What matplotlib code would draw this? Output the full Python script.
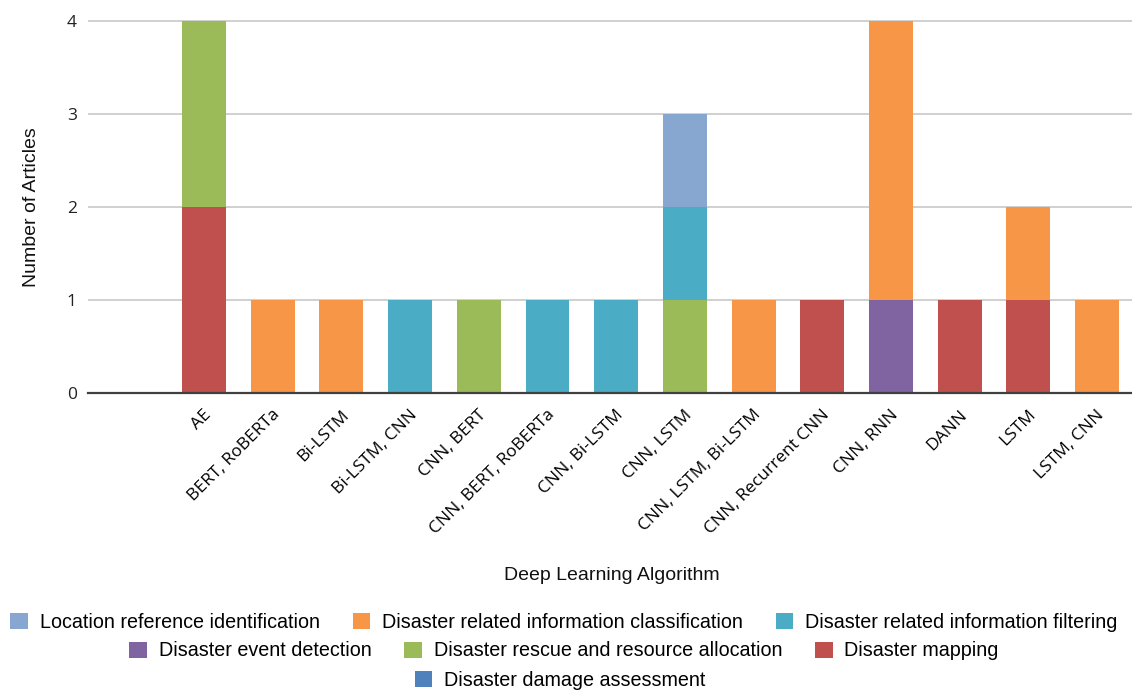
import numpy as np
import matplotlib.pyplot as plt
import matplotlib.transforms as mtransforms
from matplotlib.patches import Patch

# ==============================
# Data
# ==============================
algorithms = ["", "AE", "BERT, RoBERTa", "Bi-LSTM", "Bi-LSTM, CNN", "CNN, BERT",
              "CNN, BERT, RoBERTa", "CNN, Bi-LSTM", "CNN, LSTM", "CNN, LSTM, Bi-LSTM",
              "CNN, Recurrent CNN", "CNN, RNN", "DANN", "LSTM", "LSTM, CNN"]

damage_assessment = [0, 0, 0, 0, 0, 0, 0, 0, 0, 0, 0, 0, 0, 0, 0]
mapping           = [0, 2, 0, 0, 0, 0, 0, 0, 0, 0, 1, 0, 1, 1, 0]
rescue            = [0, 2, 0, 0, 0, 1, 0, 0, 1, 0, 0, 0, 0, 0, 0]
event_detection   = [0, 0, 0, 0, 0, 0, 0, 0, 0, 0, 0, 1, 0, 0, 0]
info_filtering    = [0, 0, 0, 0, 1, 0, 1, 1, 1, 0, 0, 0, 0, 0, 0]
info_class        = [0, 0, 1, 1, 0, 0, 0, 0, 0, 1, 0, 3, 0, 1, 1]
location_ref      = [0, 0, 0, 0, 0, 0, 0, 0, 1, 0, 0, 0, 0, 0, 0]

# bottom -> top stacking order
series = [
    ("Disaster damage assessment", damage_assessment, "#4F81BD"),
    ("Disaster mapping", mapping, "#C0504D"),
    ("Disaster rescue and resource allocation", rescue, "#9BBB59"),
    ("Disaster event detection", event_detection, "#8064A2"),
    ("Disaster related information filtering", info_filtering, "#4BACC6"),
    ("Disaster related information classification", info_class, "#F79646"),
    ("Location reference identification", location_ref, "#87A7D1"),
]

# ==============================
# Plot
# ==============================
W, H = 1132, 691
fig = plt.figure(figsize=(W / 100, H / 100), dpi=100)
ax = fig.add_axes([88 / W, (H - 393) / H, (1132 - 88) / W, (393 - 19) / H])

x = np.arange(len(algorithms))
bottom = np.zeros(len(algorithms))
colors = {}
for name, vals, col in series:
    vals = np.array(vals, dtype=float)
    ax.bar(x, vals, width=0.64, bottom=bottom, color=col, zorder=3)
    bottom += vals
    colors[name] = col

ax.set_xlim(-0.69, 14.51)
ax.set_ylim(0, 4.02)
ax.set_yticks([0, 1, 2, 3, 4])
ax.grid(axis="y", color="#c8c8c8", linewidth=1.2, zorder=0)
for s in ["top", "right", "left"]:
    ax.spines[s].set_visible(False)
ax.spines["bottom"].set_color("#404040")
ax.spines["bottom"].set_linewidth(1.6)
ax.spines["bottom"].set_zorder(4)

ax.tick_params(axis="y", length=0, pad=8, labelsize=12.5, labelcolor="#222222")
for lbl in ax.get_yticklabels():
    lbl.set_fontfamily("Open Sans")

ax.set_xticks(x)
ax.set_xticklabels(algorithms, rotation=45, ha="right", va="center",
                   rotation_mode="anchor", fontsize=12.5, fontfamily="Open Sans")
ax.tick_params(axis="x", length=0, pad=14)
offset = mtransforms.ScaledTranslation(5 / 100, 0, fig.dpi_scale_trans)
for lbl in ax.get_xticklabels():
    lbl.set_transform(lbl.get_transform() + offset)

fig.text(32 / W, 1 - 207 / H, "Number of Articles", rotation=90, ha="center",
         va="center", fontsize=14, fontfamily="Liberation Sans", color="#111111")
fig.text(612 / W, 1 - 575 / H, "Deep Learning Algorithm", ha="center",
         va="center", fontsize=14, fontfamily="Liberation Sans", color="#111111")

# legend rows (centered independently)
rows = [
    (["Location reference identification",
      "Disaster related information classification",
      "Disaster related information filtering"], 564, 622),
    (["Disaster event detection",
      "Disaster rescue and resource allocation",
      "Disaster mapping"], 564, 651),
    (["Disaster damage assessment"], 560, 680),
]
for names, cx, cy in rows:
    handles = [Patch(facecolor=colors[n], edgecolor="none") for n in names]
    fig.legend(handles, names, loc="center", bbox_to_anchor=(cx / W, 1 - cy / H),
               ncol=len(names), frameon=False, handlelength=0.9, handleheight=0.9,
               handletextpad=0.6, columnspacing=1.65, borderpad=0, borderaxespad=0,
               prop={"family": "Liberation Sans", "size": 14.2})

fig.savefig("out.png", dpi=100)
